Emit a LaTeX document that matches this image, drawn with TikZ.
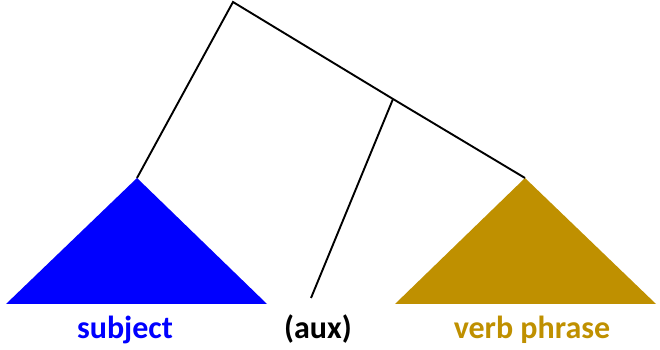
\documentclass[tikz,border=0pt]{standalone}
\usepackage{fontspec}
\setmainfont{Carlito}
\definecolor{subjblue}{HTML}{0000FF}
\definecolor{vpgold}{HTML}{BF9000}

\begin{document}
\begin{tikzpicture}[x=1pt,y=1pt,
    branch/.style={line width=1.9pt},
    lab/.style={font=\bfseries\fontsize{32}{34}\selectfont, anchor=base}]
  \useasboundingbox (0,0) rectangle (660,350);
  % tree points
  \coordinate (S) at (233,348);
  \coordinate (T) at (393,251);
  \coordinate (Subj) at (137,172);
  \coordinate (VP) at (525,172);
  \coordinate (Aux) at (311,52);
  % triangles
  \fill[subjblue] (Subj) -- (6,46) -- (267,46) -- cycle;
  \fill[vpgold] (VP) -- (395,46) -- (656,46) -- cycle;
  % branches
  \draw[branch] (Subj) -- (S) -- (T) -- (VP);
  \draw[branch] (T) -- (Aux);
  % labels
  \node[lab, text=subjblue] (subjlab) at (125,11) {subject};
  \node[lab] (auxlab) at (318,11) {(aux)};
  \node[lab, text=vpgold] (vplab) at (532,11) {verb phrase};
\end{tikzpicture}
\end{document}
